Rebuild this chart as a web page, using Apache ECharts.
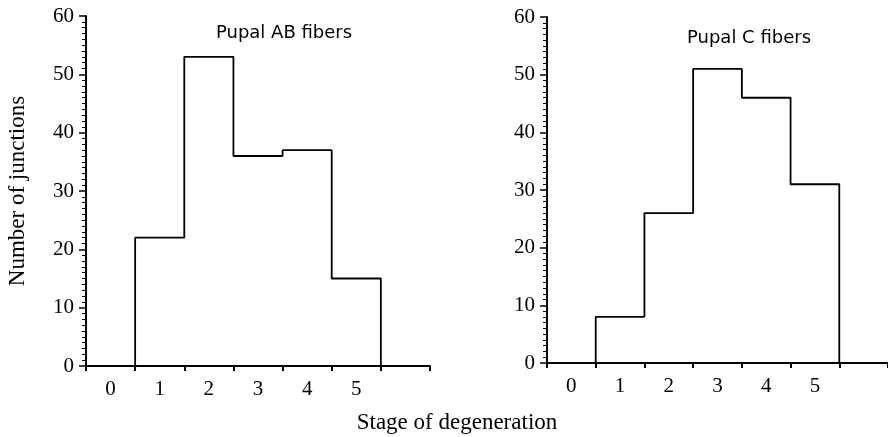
<!DOCTYPE html>
<html>
<head>
<meta charset="utf-8">
<script src="https://cdn.jsdelivr.net/npm/echarts@6/dist/echarts.min.js"></script>
<style>html,body{margin:0;padding:0;background:#fff;}#c{width:888px;height:437px;}</style>
</head>
<body>
<div id="c"></div>
<script>
const stages = ['0', '1', '2', '3', '4', '5', ''];
const abValues = [0, 22, 53, 36, 37, 15, 0];
const cValues = [0, 8, 26, 51, 46, 31, 0];
const panelTitles = ['Pupal AB fibers', 'Pupal C fibers'];
const yAxisTitle = 'Number of junctions';
const xAxisTitle = 'Stage of degeneration';

const serif = '"Liberation Serif", "DejaVu Serif", serif';
const sans = '"DejaVu Sans", Lato, sans-serif';

function xAxis(gi) {
  return {
    type: 'category', gridIndex: gi, data: stages, boundaryGap: true,
    axisLine: { lineStyle: { color: '#000', width: 2 } },
    axisTick: { show: true, alignWithLabel: false, length: 5, lineStyle: { color: '#000', width: 2 } },
    axisLabel: { color: '#000', fontFamily: serif, fontSize: 21, margin: 13 },
    splitLine: { show: false }
  };
}
function yAxis(gi, withName) {
  return {
    type: 'value', gridIndex: gi, min: 0, max: 60, interval: 10,
    name: withName ? yAxisTitle : '', nameLocation: 'middle', nameGap: 57,
    nameTextStyle: { color: '#000', fontFamily: serif, fontSize: 23 },
    axisLine: { show: true, lineStyle: { color: '#000', width: 2 } },
    axisTick: { show: true, length: 7, lineStyle: { color: '#000', width: 1.5 } },
    minorTick: { show: true, splitNumber: 10, length: 4, lineStyle: { color: '#000', width: 1 } },
    axisLabel: { color: '#000', fontFamily: serif, fontSize: 21, margin: 12 },
    splitLine: { show: false }
  };
}
function series(gi, vals) {
  return {
    type: 'line', xAxisIndex: gi, yAxisIndex: gi, data: vals, step: 'middle',
    symbol: 'none', lineStyle: { color: '#000', width: 1.8 }, z: 3
  };
}

const chart = echarts.init(document.getElementById('c'), null, { renderer: 'canvas' });
chart.setOption({
  backgroundColor: '#fff',
  animation: false,
  title: [
    { text: panelTitles[0], left: 279, top: 19, textAlign: 'center',
      textStyle: { color: '#000', fontFamily: sans, fontSize: 18, fontWeight: 'normal' } },
    { text: panelTitles[1], left: 744, top: 24, textAlign: 'center',
      textStyle: { color: '#000', fontFamily: sans, fontSize: 18, fontWeight: 'normal' } },
    { text: xAxisTitle, left: 452, top: 406, textAlign: 'center',
      textStyle: { color: '#000', fontFamily: serif, fontSize: 23, fontWeight: 'normal' } }
  ],
  grid: [
    { left: 86, width: 344, top: 16, height: 350 },
    { left: 547, width: 341, top: 17, height: 346 }
  ],
  xAxis: [xAxis(0), xAxis(1)],
  yAxis: [yAxis(0, true), yAxis(1, false)],
  series: [series(0, abValues), series(1, cValues)]
});
</script>
</body>
</html>
